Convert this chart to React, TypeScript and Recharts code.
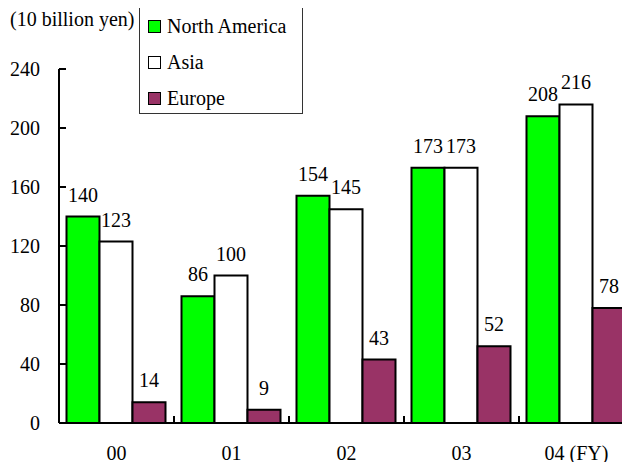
import { Bar, BarChart, LabelList, XAxis, YAxis } from "recharts";

const years = ["00", "01", "02", "03", "04 (FY)"];
const northAmerica = [140, 86, 154, 173, 208];
const asia = [123, 100, 145, 173, 216];
const europe = [14, 9, 43, 52, 78];
const yTicks = [0, 40, 80, 120, 160, 200, 240];

const seriesNames = ["North America", "Asia", "Europe"];
const seriesColors = ["#00ff00", "#ffffff", "#993366"];

const FONT = "Liberation Serif, Tinos, Times New Roman, Times, DejaVu Serif, serif";
const CHART_W = 640;
const CHART_H = 470;
const BAND = 115;

const data = years.map((year, i) => ({
  year,
  northAmerica: northAmerica[i],
  asia: asia[i],
  europe: europe[i],
}));

const seriesKeys = ["northAmerica", "asia", "europe"];

function YTick(props: any) {
  const { x, y, payload } = props;
  return (
    <g>
      <line x1={x + 19} x2={x + 26} y1={y} y2={y} stroke="#000" strokeWidth={2} />
      <text x={x} y={y} dy={7} textAnchor="end" fill="#000" fontSize={20} style={{ fontFamily: FONT }}>
        {payload.value}
      </text>
    </g>
  );
}

function XTick(props: any) {
  const { x, y, payload, index } = props;
  return (
    <g>
      {index > 0 ? (
        <line x1={x - BAND / 2} x2={x - BAND / 2} y1={y} y2={y - 7} stroke="#000" strokeWidth={2} />
      ) : null}
      <text x={x} y={y + 37} textAnchor="middle" fill="#000" fontSize={20} style={{ fontFamily: FONT }}>
        {payload.value}
      </text>
    </g>
  );
}

function LegendBox() {
  return (
    <div
      style={{
        position: "absolute",
        left: 139,
        top: 7,
        width: 164,
        height: 107,
        border: "1px solid #333",
        background: "#fff",
        boxSizing: "border-box",
        fontFamily: FONT,
        fontSize: 20,
        color: "#000",
      }}
    >
      {seriesNames.map((name, i) => (
        <div
          key={name}
          style={{
            position: "absolute",
            left: 8,
            top: 6 + i * 36,
            height: 24,
            display: "flex",
            alignItems: "center",
            whiteSpace: "nowrap",
          }}
        >
          <span
            style={{
              display: "inline-block",
              width: 11,
              height: 11,
              border: "1.5px solid #000",
              background: seriesColors[i],
              marginRight: 6,
            }}
          />
          {name}
        </div>
      ))}
    </div>
  );
}

export default function App() {
  return (
    <div
      style={{
        position: "relative",
        margin: -8,
        width: 630,
        height: 470,
        overflow: "hidden",
        background: "#fff",
        fontFamily: FONT,
      }}
    >
      <div
        style={{
          position: "absolute",
          left: 10,
          top: 8,
          fontSize: 20,
          color: "#000",
          whiteSpace: "nowrap",
        }}
      >
        (10 billion yen)
      </div>
      <div style={{ position: "absolute", left: 0, top: 0 }}>
        <BarChart
          width={CHART_W}
          height={CHART_H}
          data={data}
          margin={{ top: 69, right: 6, bottom: 0, left: 0 }}
          barCategoryGap={7.5}
          barGap={0}
        >
          <XAxis
            dataKey="year"
            height={47}
            axisLine={{ stroke: "#000", strokeWidth: 2 }}
            tickLine={false}
            tickSize={0}
            tickMargin={0}
            tick={<XTick />}
            interval={0}
          />
          <YAxis
            width={59}
            domain={[0, 240]}
            ticks={yTicks}
            axisLine={{ stroke: "#000", strokeWidth: 2 }}
            tickLine={false}
            tickSize={0}
            tickMargin={19}
            tick={<YTick />}
            interval={0}
          />
          {seriesKeys.map((key, i) => (
            <Bar
              key={key}
              dataKey={key}
              name={seriesNames[i]}
              fill={seriesColors[i]}
              stroke="#000"
              strokeWidth={2}
              isAnimationActive={false}
            >
              <LabelList
                dataKey={key}
                position="top"
                offset={15}
                fill="#000"
                fontSize={20}
                style={{ fontFamily: FONT }}
              />
            </Bar>
          ))}
        </BarChart>
      </div>
      <LegendBox />
    </div>
  );
}
